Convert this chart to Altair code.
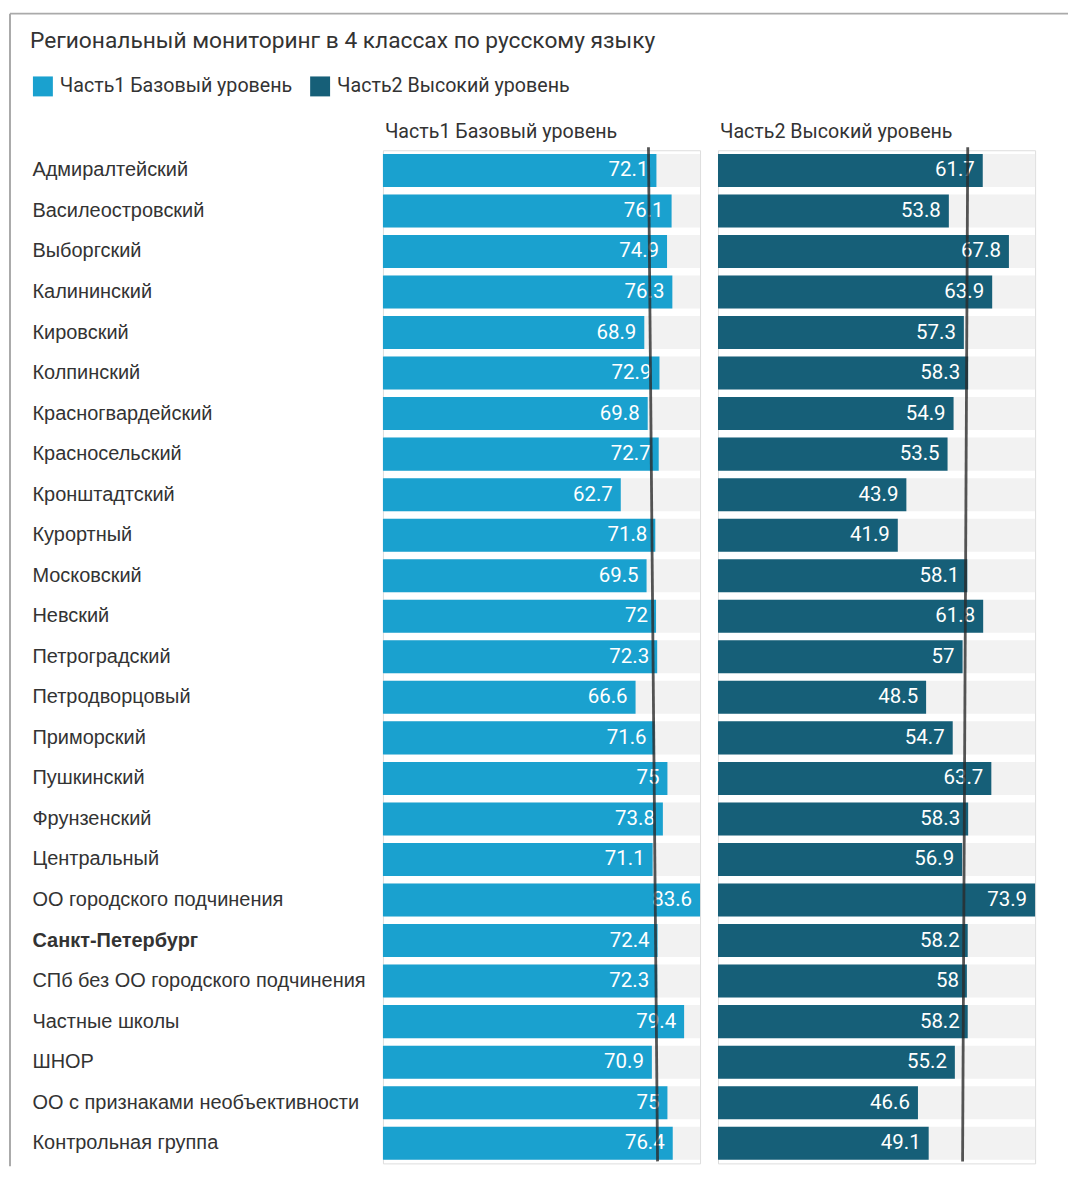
import altair as alt
import pandas as pd

title_text = "Региональный мониторинг в 4 классах по русскому языку"
series = ["Часть1 Базовый уровень", "Часть2 Высокий уровень"]
colors = ["#1aa1cf", "#165f78"]

regions = [
    "Адмиралтейский", "Василеостровский", "Выборгский", "Калининский",
    "Кировский", "Колпинский", "Красногвардейский", "Красносельский",
    "Кронштадтский", "Курортный", "Московский", "Невский", "Петроградский",
    "Петродворцовый", "Приморский", "Пушкинский", "Фрунзенский",
    "Центральный", "ОО городского подчинения", "Санкт-Петербург",
    "СПб без ОО городского подчинения", "Частные школы", "ШНОР",
    "ОО с признаками необъективности", "Контрольная группа",
]
part1 = [72.1, 76.1, 74.9, 76.3, 68.9, 72.9, 69.8, 72.7, 62.7, 71.8, 69.5, 72,
         72.3, 66.6, 71.6, 75, 73.8, 71.1, 83.6, 72.4, 72.3, 79.4, 70.9, 75, 76.4]
part2 = [61.7, 53.8, 67.8, 63.9, 57.3, 58.3, 54.9, 53.5, 43.9, 41.9, 58.1, 61.8,
         57, 48.5, 54.7, 63.7, 58.3, 56.9, 73.9, 58.2, 58, 58.2, 55.2, 46.6, 49.1]

# hand-drawn reference lines (top end, bottom end)
ref_top = [70.0, 58.2]
ref_bottom = [72.4, 57.0]

W = 318
H = 1016
TEXT = "#333333"
LABEL_FONT = "Liberation Sans"
FONT = "Roboto"


def fmt(v):
    return f"{v:g}"


def panel(idx, values, first):
    vmax = max(values)
    df = pd.DataFrame({
        "region": regions,
        "value": values,
        "label": [fmt(v) for v in values],
        "vmax": [vmax] * len(values),
        "series": [series[idx]] * len(values),
    })
    xscale = alt.Scale(domain=[0, vmax], nice=False, zero=True)
    if first:
        yaxis = alt.Axis(
            title=None, orient="left", domain=False, ticks=False,
            labelAlign="left", labelPadding=352, labelLimit=400,
            labelFontSize=20, labelFont=LABEL_FONT, labelColor=TEXT,
            labelFontWeight=alt.ExprRef(expr="datum.value == 'Санкт-Петербург' ? 'bold' : 'normal'"),
        )
    else:
        yaxis = None
    y = alt.Y("region:N", sort=regions, axis=yaxis,
              scale=alt.Scale(paddingInner=0.185, paddingOuter=0.09, round=False))
    base = alt.Chart(df)
    track = base.mark_bar(color="#f2f2f2").encode(
        y=y, x=alt.X("vmax:Q", scale=xscale, axis=None))
    legend = alt.Legend(
        title=None, orient="none", legendX=-351, legendY=-74,
        direction="horizontal", symbolType="square", symbolSize=400,
        symbolStrokeWidth=0, labelFontSize=19.7, labelFont=FONT,
        labelColor=TEXT, labelOffset=7, columnPadding=17, labelLimit=0,
    )
    bars = base.mark_bar().encode(
        y=y, x=alt.X("value:Q", scale=xscale, axis=None),
        color=alt.Color("series:N", scale=alt.Scale(domain=series, range=colors),
                        legend=legend),
    )
    labels = base.mark_text(align="right", baseline="middle", dx=-8,
                            color="white", fontSize=20.5, font=FONT).encode(
        y=y, x=alt.X("value:Q", scale=xscale, axis=None), text="label:N")
    ref = alt.Chart(pd.DataFrame({"a": [ref_top[idx]], "b": [ref_bottom[idx]]})).mark_rule(
        color="#2a2a2a", strokeWidth=2.8, opacity=0.8).encode(
        x=alt.X("a:Q", scale=xscale, axis=None), x2="b:Q",
        y=alt.value(-3), y2=alt.value(H - 2))
    one = alt.Chart(pd.DataFrame({"k": [0]}))
    header = one.mark_text(align="left", baseline="middle", fontSize=19.7,
                           font=FONT, color=TEXT).encode(
        x=alt.value(2), y=alt.value(-18), text=alt.value(series[idx]))
    layers = [track, bars, labels, ref, header]
    if first:
        frame_left = one.mark_rule(color="#aaaaaa", strokeWidth=2).encode(
            x=alt.value(-374), y=alt.value(-137), y2=alt.value(1019))
        frame_top = one.mark_rule(color="#aaaaaa", strokeWidth=2).encode(
            x=alt.value(-374), x2=alt.value(687), y=alt.value(-137))
        main_title = one.mark_text(align="left", baseline="middle", fontSize=22.8,
                                   font=FONT, color=TEXT).encode(
            x=alt.value(-354), y=alt.value(-110), text=alt.value(title_text))
        layers += [frame_left, frame_top, main_title]
    return alt.layer(*layers).properties(width=W, height=H)


chart = alt.hconcat(
    panel(0, part1, True), panel(1, part2, False), spacing=18, bounds="flush"
).properties(
    padding={"left": 0, "top": 2, "right": 0, "bottom": 0}
).configure_view(stroke=None).configure(background="white")

chart.save("out.html", embed_options={"renderer": "svg", "actions": False})
